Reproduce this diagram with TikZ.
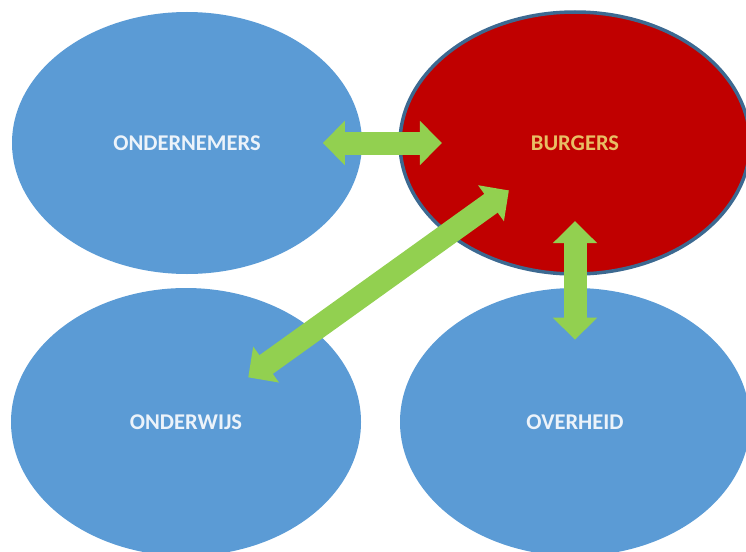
\documentclass[tikz,border=0pt]{standalone}
\usepackage{fontspec}
\setmainfont{Carlito}
\usetikzlibrary{shapes.geometric, arrows.meta, calc}

\definecolor{vakblauw}{RGB}{91,155,213}
\definecolor{vakrood}{RGB}{192,0,0}
\definecolor{randblauw}{RGB}{60,105,145}
\definecolor{pijlgroen}{RGB}{146,208,80}
\definecolor{tekstwit}{RGB}{236,243,250}
\definecolor{tekstgoud}{RGB}{232,190,100}

\tikzset{
    groep/.style={ellipse, fill=vakblauw, inner sep=0pt, minimum width=350pt, minimum height=262pt,
        text=tekstwit, font=\fontsize{22.5}{26}\selectfont\bfseries},
    relatie/.style={line width=23pt, draw=pijlgroen,
        {Triangle[length=22pt, width=43pt]}-{Triangle[length=22pt, width=43pt]}}
}

\begin{document}
\begin{tikzpicture}[x=1pt, y=-1pt]
    \useasboundingbox (0, 0) rectangle (746, 551);
    \clip (0, 0) rectangle (746, 551);

    \node[groep] (ond) at (187, 143) {ONDERNEMERS};
    \node[groep, fill=vakrood, draw=randblauw, line width=3.5pt, text=tekstgoud] (bur) at (575, 143) {BURGERS};
    \node[groep, minimum height=268pt] (onw) at (186, 422) {ONDERWIJS};
    \node[groep, minimum height=268pt] (ovh) at (575, 422) {OVERHEID};

    \draw[relatie] ($(ond.center)!0.35!(bur.center)$) -- ($(ond.center)!0.657!(bur.center)$);
    \draw[relatie] ($(bur.center)!0.17!(onw.center)$) -- ($(onw.center)!0.16!(bur.center)$);
    \draw[relatie] ($(bur.center)!0.28!(ovh.center)$) -- ($(bur.center)!0.705!(ovh.center)$);
\end{tikzpicture}
\end{document}
